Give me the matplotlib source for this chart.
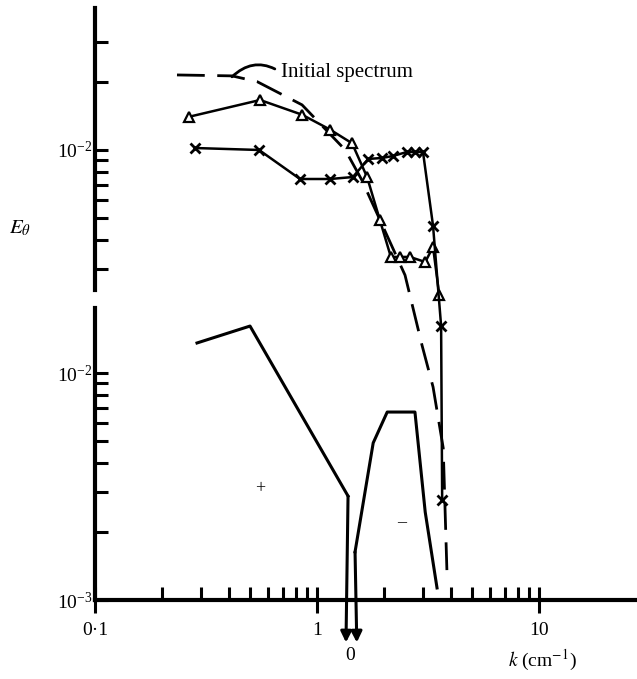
import numpy as np
import matplotlib
matplotlib.use("Agg")
import matplotlib.pyplot as plt
from matplotlib.ticker import FixedLocator, NullFormatter, FixedFormatter, LogFormatterSciNotation

plt.rcParams['font.family'] = 'serif'
plt.rcParams['font.serif'] = ['Liberation Serif', 'DejaVu Serif']
plt.rcParams['mathtext.fontset'] = 'stix'

# Spectra E_theta(k) (upper scale)
k_init = [0.234, 0.414, 0.537, 0.856, 1.34, 1.59, 1.92, 2.49, 2.97, 3.33, 3.70, 3.85]
E_init = [0.0214, 0.0212, 0.0200, 0.0158, 0.0100, 0.00738, 0.00492, 0.00281,
          0.00138, 0.000904, 0.000487, 0.000134]

k_tri = [0.265, 0.554, 0.856, 1.144, 1.438, 1.68, 1.92, 2.15, 2.36, 2.62, 3.07, 3.33, 3.55]
E_tri = [0.0140, 0.0166, 0.0143, 0.0123, 0.0107, 0.0076, 0.0049, 0.00338, 0.00338,
         0.00338, 0.00321, 0.00374, 0.0023]

k_cross = [0.282, 0.548, 0.838, 1.144, 1.45, 1.70, 1.96, 2.20, 2.54, 2.76, 3.00, 3.33, 3.62, 3.66]
E_cross = [0.0102, 0.0100, 0.00745, 0.00745, 0.0076, 0.00913, 0.00922, 0.00941, 0.0098,
           0.0098, 0.0098, 0.00463, 0.00168, 0.000287]

# Transfer |T(k)| (lower scale), positive and negative branches
k_pos = [0.288, 0.499, 1.379]
T_pos = [0.01356, 0.0161, 0.00287]
k_neg = [1.483, 1.79, 2.07, 2.76, 3.07, 3.47]
T_neg = [0.00163, 0.00492, 0.00673, 0.00673, 0.00244, 0.00113]
k_zero = [1.35, 1.51]  # where each branch drops to zero

x_ticks = [0.1, 1, 10]
x_ticklabels = ['0\u00b71', '1', '10']
x_minor = [0.2, 0.3, 0.4, 0.5, 0.6, 0.7, 0.8, 0.9, 2, 3, 4, 5, 6, 7, 8, 9]

fig = plt.figure(figsize=(6.37, 6.79), dpi=100)
rect = [95 / 637, 79 / 679, 542 / 637, 592 / 679]
ax_lo = fig.add_axes(rect)
ax_hi = fig.add_axes(rect)
ax_hi.patch.set_visible(False)

xlim = (0.1, 27.6)
for ax in (ax_lo, ax_hi):
    ax.set_xscale('log')
    ax.set_yscale('log')
    ax.set_xlim(*xlim)
    for s in ('top', 'right'):
        ax.spines[s].set_visible(False)
    ax.spines['left'].set_linewidth(3)

# upper E_theta axis
ax_hi.set_ylim(1.042e-4, 0.0422)
ax_hi.spines['bottom'].set_visible(False)
ax_hi.spines['left'].set_bounds(2.41e-3, 0.0422)
ax_hi.tick_params(axis='x', which='both', bottom=False, labelbottom=False)
ax_hi.yaxis.set_major_locator(FixedLocator([1e-2]))
ax_hi.yaxis.set_minor_locator(FixedLocator([3e-3, 4e-3, 5e-3, 6e-3, 7e-3, 8e-3, 9e-3, 2e-2, 3e-2]))
ax_hi.yaxis.set_major_formatter(LogFormatterSciNotation())
ax_hi.yaxis.set_minor_formatter(NullFormatter())

# lower transfer axis
ax_lo.set_ylim(1e-3, 0.4055)
ax_lo.spines['left'].set_bounds(1e-3, 0.0193)
ax_lo.spines['bottom'].set_linewidth(3)
ax_lo.yaxis.set_major_locator(FixedLocator([1e-3, 1e-2]))
ax_lo.yaxis.set_minor_locator(FixedLocator([2e-3, 3e-3, 4e-3, 5e-3, 6e-3, 7e-3, 8e-3, 9e-3]))
ax_lo.yaxis.set_major_formatter(LogFormatterSciNotation())
ax_lo.yaxis.set_minor_formatter(NullFormatter())
ax_lo.xaxis.set_major_locator(FixedLocator(x_ticks))
ax_lo.xaxis.set_major_formatter(FixedFormatter(x_ticklabels))
ax_lo.xaxis.set_minor_locator(FixedLocator(x_minor))
ax_lo.xaxis.set_minor_formatter(NullFormatter())

for ax in (ax_lo, ax_hi):
    ax.tick_params(axis='y', which='both', direction='in', length=9.5, width=2.2,
                   pad=2, labelsize=14)
ax_lo.tick_params(axis='x', which='major', direction='inout', length=19, width=2.2,
                  pad=6, labelsize=14)
ax_lo.tick_params(axis='x', which='minor', direction='in', length=9.5, width=2.2)

# spectra
ax_hi.plot(k_init, E_init, color='black', lw=2, dashes=(10, 4.5), clip_on=False)
ax_hi.plot(k_tri, E_tri, color='black', lw=1.8, marker='^', ms=7, mfc='white',
           mec='black', mew=1.6, clip_on=False)
ax_hi.plot(k_cross, E_cross, color='black', lw=1.8, marker='x', ms=7, mew=2,
           clip_on=False)
ax_hi.annotate('Initial spectrum', xy=(0.414, 0.021), xytext=(0.69, 0.0219),
               fontsize=15, ha='left', va='center',
               arrowprops=dict(arrowstyle='-', lw=2, color='black', relpos=(0, 0.5),
                               connectionstyle='arc3,rad=0.4', shrinkA=3, shrinkB=0))

# transfer
ax_lo.plot(k_pos, T_pos, color='black', lw=2.2)
ax_lo.plot(k_neg, T_neg, color='black', lw=2.2)
ax_lo.annotate('', xy=(k_zero[0], 6.5e-4), xytext=(k_pos[-1], T_pos[-1]),
               annotation_clip=False,
               arrowprops=dict(arrowstyle='-|>', lw=2.2, color='black',
                               mutation_scale=16, shrinkA=0, shrinkB=0))
ax_lo.annotate('', xy=(k_zero[1], 6.5e-4), xytext=(k_neg[0], T_neg[0]),
               annotation_clip=False,
               arrowprops=dict(arrowstyle='-|>', lw=2.2, color='black',
                               mutation_scale=16, shrinkA=0, shrinkB=0))
ax_lo.text(1.408, -0.093, '0', transform=ax_lo.get_xaxis_transform(),
           ha='center', va='center', fontsize=14)
ax_lo.text(0.555, 0.0031, '+', ha='center', va='center', fontsize=13)
ax_lo.text(2.40, 0.0022, '\u2013', ha='center', va='center', fontsize=13)

fig.text(20 / 637, 1 - 228 / 679, r'$E_\theta$', fontsize=15, ha='center', va='center')
fig.text(542 / 637, 1 - 660 / 679, r'$k\ $(cm$^{-1}$)', fontsize=14, ha='center', va='center')

fig.savefig('out.png', dpi=100)
